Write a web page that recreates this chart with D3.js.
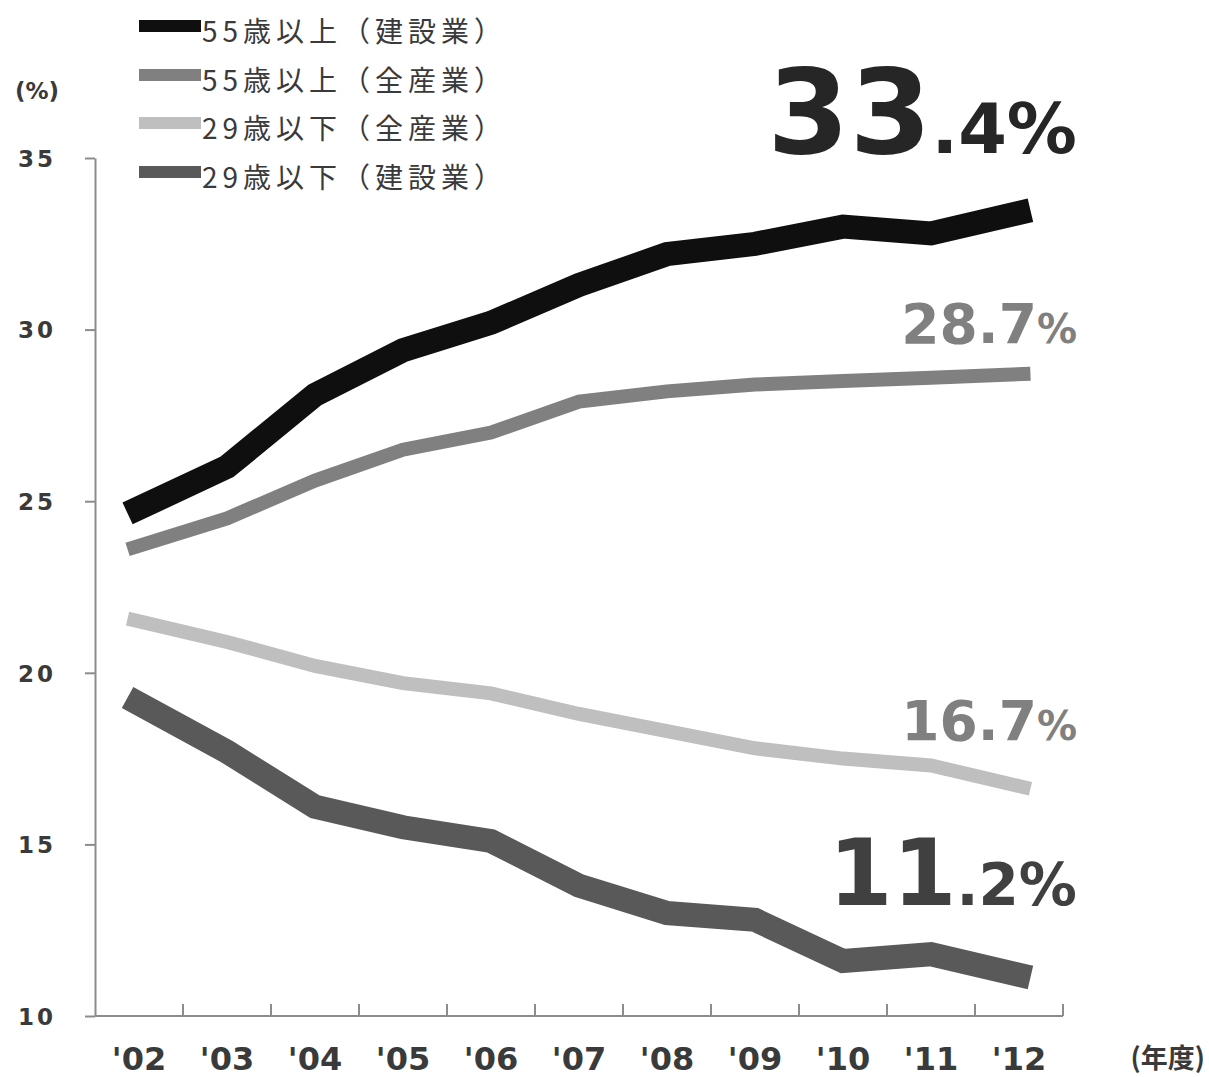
<!DOCTYPE html>
<html>
<head>
<meta charset="utf-8">
<script src="https://cdn.jsdelivr.net/npm/d3@7"></script>
<style>
  html, body { margin: 0; padding: 0; background: #fff; }
  svg { display: block; }
</style>
</head>
<body>
<svg id="chart" width="1209" height="1077"></svg>
<script>
// ---- data ----
const years = ["'02", "'03", "'04", "'05", "'06", "'07", "'08", "'09", "'10", "'11", "'12"];
const construction55 = [24.8, 26.0, 28.1, 29.4, 30.2, 31.3, 32.2, 32.5, 33.0, 32.8, 33.4];
const allIndustry55  = [23.7, 24.5, 25.6, 26.5, 27.0, 27.9, 28.2, 28.4, 28.5, 28.6, 28.7];
const allIndustry29  = [21.5, 20.9, 20.2, 19.7, 19.4, 18.8, 18.3, 17.8, 17.5, 17.3, 16.7];
const construction29 = [19.1, 17.7, 16.1, 15.5, 15.1, 13.8, 13.0, 12.8, 11.6, 11.8, 11.2];
const seriesNames = ["55歳以上（建設業）", "55歳以上（全産業）", "29歳以下（全産業）", "29歳以下（建設業）"];
const yTicks = [10, 15, 20, 25, 30, 35];
const yLabel = "(%)";
const xLabel = "(年度)";

// ---- styles ----
const seriesStyle = [
  { color: "#0f0f0f", width: 24, labelColor: "#262626", big: 118, small: 70 },
  { color: "#808080", width: 14, labelColor: "#808080", big: 55, small: 40 },
  { color: "#bfbfbf", width: 14, labelColor: "#808080", big: 55, small: 40 },
  { color: "#595959", width: 24, labelColor: "#404040", big: 92, small: 58 }
];
const labelBaselines = [153, 343, 740, 905];
const labelSplitAtDot = [true, false, false, true];
const series = [construction55, allIndustry55, allIndustry29, construction29];

const svg = d3.select("#chart");
const axisColor = "#8c8c8c";
const numFont = "'DejaVu Sans', sans-serif";
const jpFont = "'Noto Sans CJK JP', 'Noto Sans', sans-serif";

const x = d3.scaleBand().domain(years).range([95, 1063]).padding(0);
const y = d3.scaleLinear().domain([10, 35]).range([1016, 158]);
const cx = d => x(d) + x.bandwidth() / 2;

// ---- y axis ----
const yAxis = d3.axisLeft(y).tickValues(yTicks).tickSize(10).tickSizeOuter(0).tickPadding(29);
const gy = svg.append("g").attr("transform", "translate(95,0)").call(yAxis);
gy.select(".domain").attr("stroke", axisColor).attr("stroke-width", 2);
gy.selectAll(".tick line").attr("stroke", axisColor).attr("stroke-width", 2);
gy.selectAll(".tick text")
  .attr("fill", "#3a3a3a")
  .attr("font-family", numFont)
  .attr("font-weight", "bold")
  .attr("font-size", 23)
  .attr("letter-spacing", 3)
  .attr("dy", "0.36em");

// ---- x axis ----
const gx = svg.append("g");
gx.append("line")
  .attr("x1", x.range()[0]).attr("x2", x.range()[1])
  .attr("y1", y(10)).attr("y2", y(10))
  .attr("stroke", axisColor).attr("stroke-width", 2);
const edges = years.slice(1).map(d => x(d)).concat([x.range()[1]]);
gx.selectAll("line.tk").data(edges).enter().append("line")
  .attr("class", "tk")
  .attr("x1", d => d).attr("x2", d => d)
  .attr("y1", y(10)).attr("y2", y(10) - 12)
  .attr("stroke", axisColor).attr("stroke-width", 2);
gx.selectAll("text").data(years).enter().append("text")
  .attr("x", d => cx(d))
  .attr("y", 1070)
  .attr("text-anchor", "middle")
  .attr("fill", "#3a3a3a")
  .attr("font-family", numFont)
  .attr("font-weight", "bold")
  .attr("font-size", 32)
  .text(d => d);

svg.append("text")
  .attr("x", 15).attr("y", 99)
  .attr("fill", "#3a3a3a")
  .attr("font-family", numFont)
  .attr("font-weight", "bold")
  .attr("font-size", 23)
  .text(yLabel);

svg.append("text")
  .attr("x", 1205).attr("y", 1068)
  .attr("text-anchor", "end")
  .attr("fill", "#3a3a3a")
  .attr("font-family", jpFont)
  .attr("font-weight", "bold")
  .attr("font-size", 27)
  .text(xLabel);

// ---- lines ----
const overhang = 0.13; // fraction of a step the ends of each line run past the first/last year
function pathPoints(vals) {
  const pts = vals.map((v, i) => [cx(years[i]), y(v)]);
  const n = pts.length;
  const first = [pts[0][0] + (pts[0][0] - pts[1][0]) * overhang, pts[0][1] + (pts[0][1] - pts[1][1]) * overhang];
  const last = [pts[n-1][0] + (pts[n-1][0] - pts[n-2][0]) * overhang, pts[n-1][1] + (pts[n-1][1] - pts[n-2][1]) * overhang];
  pts[0] = first; pts[n-1] = last;
  return pts;
}
const line = d3.line();
series.forEach((vals, i) => {
  svg.append("path")
    .attr("d", line(pathPoints(vals)))
    .attr("fill", "none")
    .attr("stroke", seriesStyle[i].color)
    .attr("stroke-width", seriesStyle[i].width)
    .attr("stroke-linejoin", "miter")
    .attr("stroke-linecap", "butt");
});

// ---- end value labels ----
series.forEach((vals, i) => {
  const s = seriesStyle[i];
  const str = vals[vals.length - 1].toFixed(1);
  let head, tail;
  if (labelSplitAtDot[i]) { head = str.split(".")[0]; tail = "." + str.split(".")[1] + "%"; }
  else { head = str; tail = "%"; }
  const t = svg.append("text")
    .attr("x", 1077).attr("y", labelBaselines[i])
    .attr("text-anchor", "end")
    .attr("fill", s.labelColor)
    .attr("font-family", numFont)
    .attr("font-weight", "bold");
  t.append("tspan").attr("font-size", s.big).text(head);
  t.append("tspan").attr("font-size", s.small).text(tail);
});

// ---- legend ----
const legendRows = [26, 75, 123, 172];
const lg = svg.append("g");
seriesNames.forEach((name, i) => {
  lg.append("line")
    .attr("x1", 139).attr("x2", 201)
    .attr("y1", legendRows[i]).attr("y2", legendRows[i])
    .attr("stroke", seriesStyle[i].color)
    .attr("stroke-width", 12);
  lg.append("text")
    .attr("x", 202).attr("y", legendRows[i] + 4)
    .attr("dominant-baseline", "central")
    .attr("fill", "#3a3a3a")
    .attr("font-family", jpFont)
    .attr("font-size", 28)
    .attr("letter-spacing", 5)
    .text(name);
});
</script>
</body>
</html>
